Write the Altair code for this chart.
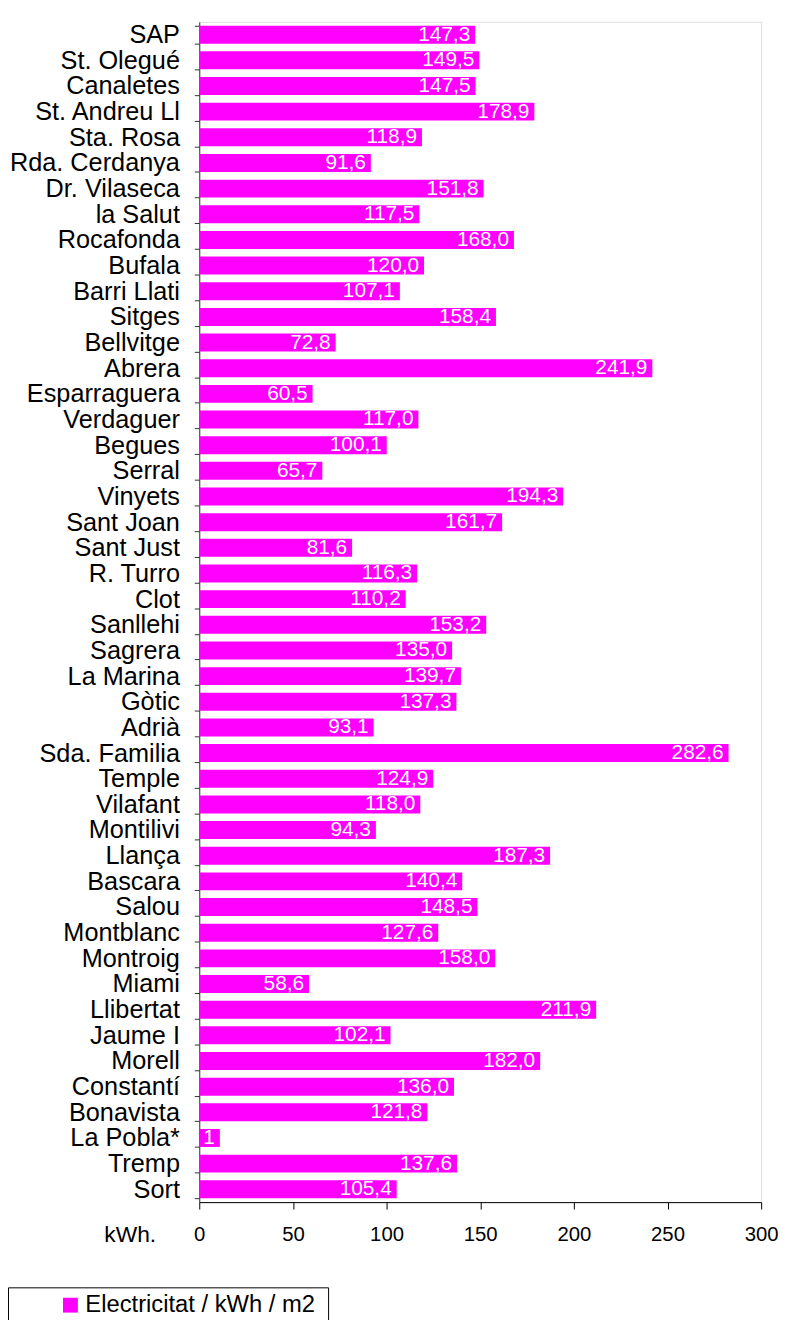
import altair as alt
import pandas as pd

categories = ["SAP", "St. Olegué", "Canaletes", "St. Andreu Ll", "Sta. Rosa", "Rda. Cerdanya",
              "Dr. Vilaseca", "la Salut", "Rocafonda", "Bufala", "Barri Llati", "Sitges",
              "Bellvitge", "Abrera", "Esparraguera", "Verdaguer", "Begues", "Serral",
              "Vinyets", "Sant Joan", "Sant Just", "R. Turro", "Clot", "Sanllehi",
              "Sagrera", "La Marina", "Gòtic", "Adrià", "Sda. Familia", "Temple",
              "Vilafant", "Montilivi", "Llança", "Bascara", "Salou", "Montblanc",
              "Montroig", "Miami", "Llibertat", "Jaume I", "Morell", "Constantí",
              "Bonavista", "La Pobla*", "Tremp", "Sort"]
values = [147.3, 149.5, 147.5, 178.9, 118.9, 91.6,
          151.8, 117.5, 168.0, 120.0, 107.1, 158.4,
          72.8, 241.9, 60.5, 117.0, 100.1, 65.7,
          194.3, 161.7, 81.6, 116.3, 110.2, 153.2,
          135.0, 139.7, 137.3, 93.1, 282.6, 124.9,
          118.0, 94.3, 187.3, 140.4, 148.5, 127.6,
          158.0, 58.6, 211.9, 102.1, 182.0, 136.0,
          121.8, 11.0, 137.6, 105.4]
value_labels = ["147,3", "149,5", "147,5", "178,9", "118,9", "91,6",
                "151,8", "117,5", "168,0", "120,0", "107,1", "158,4",
                "72,8", "241,9", "60,5", "117,0", "100,1", "65,7",
                "194,3", "161,7", "81,6", "116,3", "110,2", "153,2",
                "135,0", "139,7", "137,3", "93,1", "282,6", "124,9",
                "118,0", "94,3", "187,3", "140,4", "148,5", "127,6",
                "158,0", "58,6", "211,9", "102,1", "182,0", "136,0",
                "121,8", "1", "137,6", "105,4"]
x_ticks = [0, 50, 100, 150, 200, 250, 300]
series_name = "Electricitat  / kWh / m2"
axis_unit = "kWh."

df = pd.DataFrame({"cat": categories, "val": values, "lab": value_labels, "serie": series_name})

FONT = "Liberation Sans"
MAGENTA = "#FF00FF"

y_enc = alt.Y("cat:N", sort=categories,
              scale=alt.Scale(paddingInner=0.3, paddingOuter=0.15),
              axis=alt.Axis(title=None, labelFont=FONT, labelFontSize=25.5, labelColor="#000",
                            tickBand="extent", tickSize=5, tickColor="#333", domainColor="#333",
                            labelPadding=15, labelLimit=400))

bars = alt.Chart(df).mark_bar(cornerRadius=0).encode(
    x=alt.X("val:Q", scale=alt.Scale(domain=[0, 300], nice=False),
            axis=alt.Axis(values=x_ticks, grid=False, title=axis_unit, titleFont=FONT,
                          titleFontSize=23, titleFontWeight="normal", titleColor="#000",
                          titleX=-44, titleY=40, titleAlign="right", titleBaseline="alphabetic",
                          titleAngle=0,
                          labelFont=FONT, labelFontSize=20.5, labelColor="#000",
                          tickSize=7, tickColor="#000", domainColor="#000", labelPadding=16,
                          labelFlush=False)),
    y=y_enc,
    color=alt.Color("serie:N", scale=alt.Scale(range=[MAGENTA]),
                    legend=alt.Legend(title=None, orient="none", legendX=-193, legendY=1277,
                                      strokeColor="#000", padding=6, symbolType="square",
                                      symbolSize=225, symbolStrokeWidth=0, symbolOffset=45,
                                      labelFont=FONT, labelFontSize=24, labelColor="#000",
                                      labelOffset=3, labelLimit=500)),
)

texts = alt.Chart(df).mark_text(align="right", baseline="middle", dx=-5, color="white",
                                font=FONT, fontSize=21).encode(
    x="val:Q",
    y=alt.Y("cat:N", sort=categories),
    text="lab:N",
)

chart = (bars + texts).properties(
    width=567, height=1191, autosize="none",
    padding={"left": 193, "top": 8, "right": 18, "bottom": 113},
).configure_view(stroke=None).configure(background="white")

chart.save("out.html", embed_options={"renderer": "svg", "actions": False})
